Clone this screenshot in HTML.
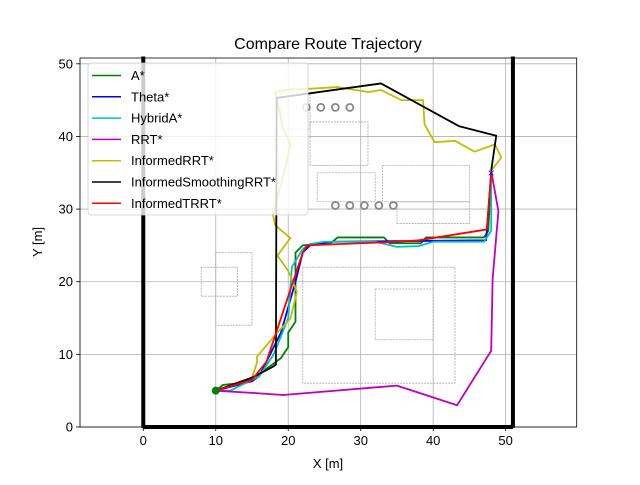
<!DOCTYPE html>
<html><head><meta charset="utf-8"><style>
body{margin:0;background:#fff}
svg{font-family:"Liberation Sans","DejaVu Sans",sans-serif}
</style></head><body>
<svg id="chart" width="640" height="480" xmlns="http://www.w3.org/2000/svg">
<rect width="640" height="480" fill="#fff"/>
<text x="328" y="49" font-size="16" text-anchor="middle">Compare Route Trajectory</text>
<text x="328" y="468" font-size="13" text-anchor="middle">X [m]</text>
<text transform="translate(42,242) rotate(-90)" font-size="13" text-anchor="middle">Y [m]</text>
<g id="grid"></g><g id="map"></g><g id="series"></g><g id="axes"></g><g id="legend"></g>
</svg>
<script>
const xTicks=[0,10,20,30,40,50];
const yTicks=[0,10,20,30,40,50];
const names=["A*","Theta*","HybridA*","RRT*","InformedRRT*","InformedSmoothingRRT*","InformedTRRT*"];
const colors=["#008000","#0000ff","#00bfbf","#bf00bf","#bfbf00","#000000","#ff0000"];
const sAstar=[[10,5],[11,5.8],[13,6],[15,6.5],[17,8],[19,9.5],[20,11],[20,13],[21,14.5],[21,24],[22,25],[26,25.4],[26.8,26.1],[33.2,26.1],[34,25.3],[38.3,25.3],[39,26.1],[47,26.1],[47.6,27],[48,35]];
const sTheta=[[10,5],[15,6.3],[16,7],[19,13],[21,20],[22,24],[23,25],[26,25.5],[47.3,25.7],[48,35]];
const sHybrid=[[10,5],[12,5],[14,6],[16,7],[18,10],[20,15],[20.5,22],[22,24.5],[23,25.2],[25,25.5],[32,25.5],[35,24.8],[38,24.9],[40,25.5],[47,25.5],[48,27],[48,35]];
const sRRT=[[10,5],[15,4.7],[19.3,4.4],[35,5.7],[43.3,3],[48,10.5],[48.2,20.4],[49,29.7],[48,35.3]];
const sInfRRT=[[10,5],[15,6.8],[15.7,8.9],[15.7,9.7],[18.5,13],[20.3,14.9],[21.2,18.6],[20,21.5],[18.5,23.6],[20.3,26],[18.2,27.8],[17.9,29.2],[19.6,35.7],[20.3,38.9],[19.3,41.2],[18.2,46.1],[20.3,46.5],[21.7,46.5],[26.8,46.8],[31.1,46.1],[32.8,46.4],[35.6,45],[38.6,45],[38.8,41.7],[40.2,39.2],[43,39.4],[45.7,37.9],[48.5,38.9],[49.4,37.1],[48,35.3]];
const sInfSmooth=[[10,5],[15,6.8],[17.9,8.3],[18.3,8.6],[18.4,45.3],[22,45.8],[32.8,47.3],[43.6,41.4],[48.7,40.1],[48,35.3]];
const sInfTRRT=[[10,5],[15,6.5],[17,9],[19,15],[21,21],[22,24],[22.6,25],[35,25.5],[38,25.7],[47.4,27.2],[48,35]];
const allSeries=[sAstar,sTheta,sHybrid,sRRT,sInfRRT,sInfSmooth,sInfTRRT];
const X0=-8.73,X1=59.8,Y0=0,Y1=50.8,L=80,R=576.7,T=58,B=427;
const sx=v=>L+(v-X0)/(X1-X0)*(R-L), sy=v=>B-(v-Y0)/(Y1-Y0)*(B-T);
const NS="http://www.w3.org/2000/svg";
function mk(t,a,p){const e=document.createElementNS(NS,t);for(const k in a)e.setAttribute(k,a[k]);p.appendChild(e);return e;}
const grid=document.getElementById('grid'),axes=document.getElementById('axes'),map=document.getElementById('map'),ser=document.getElementById('series'),leg=document.getElementById('legend');
xTicks.forEach(v=>{
 const g=mk('line',{x1:sx(v),x2:sx(v),y1:T,y2:B,stroke:'#b0b0b0','stroke-width':0.8},grid);
 
 const tk=mk('line',{x1:sx(v),x2:sx(v),y1:B,y2:B+4,stroke:'#000','stroke-width':0.8},axes);
 
 const t=mk('text',{x:sx(v),y:B+18,'font-size':13,'text-anchor':'middle'},axes);t.textContent=v;
 
});
yTicks.forEach(v=>{
 const g=mk('line',{x1:L,x2:R,y1:sy(v),y2:sy(v),stroke:'#b0b0b0','stroke-width':0.8},grid);
 
 const tk=mk('line',{x1:L-4,x2:L,y1:sy(v),y2:sy(v),stroke:'#000','stroke-width':0.8},axes);
 
 const t=mk('text',{x:L-7,y:sy(v)+4.5,'font-size':13,'text-anchor':'end'},axes);t.textContent=v;
 
});
const rects=[[10,14,5,10],[8,18,5,4],[22,6,21,16],[24,31,8,4],[32,12,8,7],[33,31,12,5],[35,28,10,3],[19,41,4,5],[23,36,8,6]];
rects.forEach(r=>{const e=mk('rect',{x:sx(r[0]),y:sy(r[1]+r[3]),width:r[2]*7.25,height:r[3]*7.25,fill:'none',stroke:'#aaa','stroke-width':0.8,'stroke-dasharray':'2 1'},map);
 });
[[26.5,30.5],[28.5,30.5],[30.5,30.5],[32.5,30.5],[34.5,30.5],[22.5,44],[24.5,44],[26.5,44],[28.5,44]].forEach(c=>{const e=mk('circle',{cx:sx(c[0]),cy:sy(c[1]),r:3.5,fill:'none',stroke:'#888','stroke-width':1.8},map);
 });
[[0,-0.1,0,51],[51,-0.1,51,51],[0,0,51,0]].forEach(w=>{const e=mk('line',{x1:sx(w[0]),y1:sy(w[1]),x2:sx(w[2]),y2:sy(w[3]),stroke:'#000','stroke-width':4},map);
 });
allSeries.forEach((s,i)=>{const p=mk('polyline',{points:s.map(d=>sx(d[0])+','+sy(d[1])).join(' '),fill:'none',stroke:colors[i],'stroke-width':1.8,'stroke-linejoin':'round'},ser);
 });
const st=mk('circle',{cx:sx(10),cy:sy(5),r:4,fill:'#008000'},ser);

const gl=mk('text',{x:sx(48),y:sy(35)+4,'font-size':12,'text-anchor':'middle',fill:'#0000ff'},ser);gl.textContent='×';

const fr=mk('rect',{x:L,y:T,width:R-L,height:B-T,fill:'none',stroke:'#000','stroke-width':0.8},axes);

const lb=mk('rect',{x:88,y:63,width:220,height:152,rx:3,fill:'#fff','fill-opacity':0.8,stroke:'#ccc','stroke-width':0.8},leg);

names.forEach((n,i)=>{const y=75.5+i*21.3;
 const l=mk('line',{x1:92,x2:121,y1:y,y2:y,stroke:colors[i],'stroke-width':1.5},leg);
 
 const t=mk('text',{x:131,y:y+4.5,'font-size':13},leg);t.textContent=n;
 });
</script>
</body></html>
